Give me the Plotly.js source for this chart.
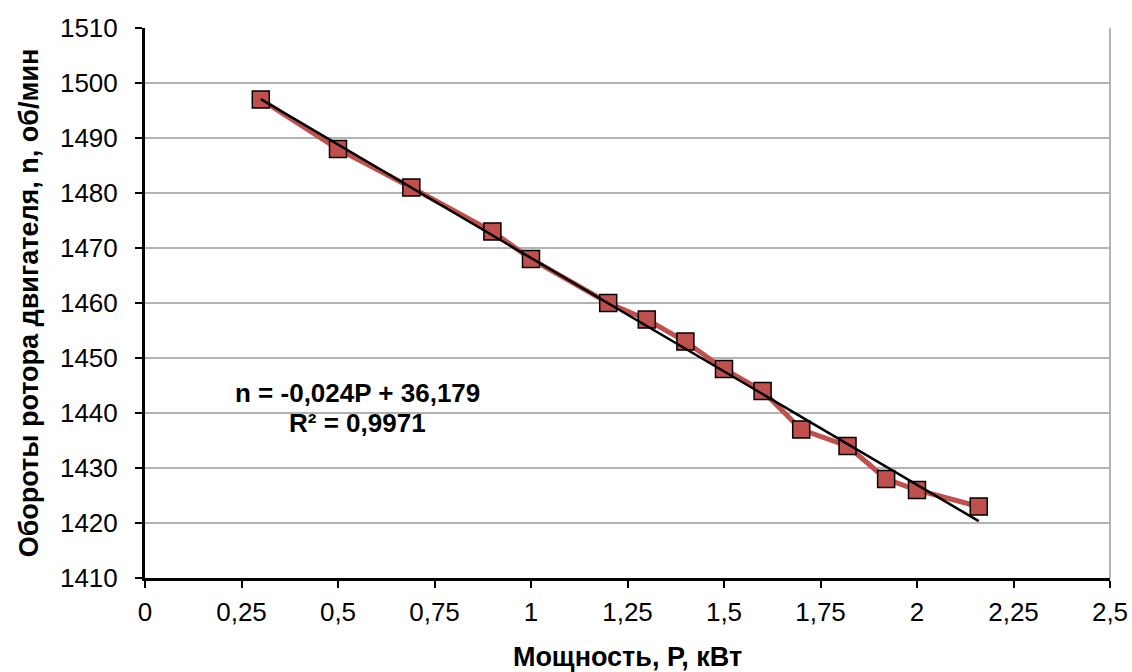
<!DOCTYPE html>
<html><head><meta charset="utf-8">
<script src="https://cdn.plot.ly/plotly-3.0.1.min.js"></script>
<style>html,body{margin:0;padding:0;background:#fff}#chart{width:1132px;height:672px}</style>
</head><body><div id="chart"></div>
<script>
const powerKW = [0.30, 0.50, 0.69, 0.90, 1.00, 1.20, 1.30, 1.40, 1.50, 1.60, 1.70, 1.82, 1.92, 2.00, 2.16];
const speedRPM = [1497, 1488, 1481, 1473, 1468, 1460, 1457, 1453, 1448, 1444, 1437, 1434, 1428, 1426, 1423];
const equationText = "n = -0,024P + 36,179";
const r2Text = "R² = 0,9971";
const xTitle = "Мощность, Р, кВт";
const yTitle = "Обороты ротора двигателя, n, об/мин";

// least squares trend line
const n = powerKW.length;
const mx = powerKW.reduce((a,b)=>a+b,0)/n;
const my = speedRPM.reduce((a,b)=>a+b,0)/n;
let sxy=0, sxx=0;
for(let i=0;i<n;i++){sxy+=(powerKW[i]-mx)*(speedRPM[i]-my);sxx+=(powerKW[i]-mx)**2;}
const slope=sxy/sxx, icpt=my-slope*mx;
const tx=[Math.min(...powerKW), Math.max(...powerKW)];
const ty=tx.map(v=>icpt+slope*v);

const font = {family:"Liberation Sans, Arial, sans-serif", color:"#000"};
const data = [
  {x:powerKW, y:speedRPM, type:"scatter", mode:"lines+markers",
   line:{color:"#c0504d", width:5},
   marker:{symbol:"square", size:17, color:"#c0504d", line:{color:"#000", width:1.5}},
   showlegend:false, hoverinfo:"x+y"},
  {x:tx, y:ty, type:"scatter", mode:"lines", line:{color:"#000", width:2.5}, showlegend:false}
];
const layout = {
  width:1132, height:672,
  margin:{l:145, r:22, t:28, b:94},
  paper_bgcolor:"#fff", plot_bgcolor:"#fff",
  separators:", ",
  font:Object.assign({size:26}, font),
  xaxis:{range:[0,2.5], dtick:0.25, tick0:0, showgrid:false, zeroline:false,
    showline:true, linecolor:"#000", linewidth:3, ticks:"outside", ticklen:7, tickwidth:2, tickcolor:"#000",
    tickfont:Object.assign({size:26}, font), ticklabelstandoff:2,
    title:{text:"<b>"+xTitle+"</b>", font:Object.assign({size:27}, font), standoff:26}},
  yaxis:{range:[1410,1510], dtick:10, showgrid:true, gridcolor:"#b3b3b3", gridwidth:1.5, zeroline:false,
    showline:true, linecolor:"#000", linewidth:3, ticks:"outside", ticklen:7, tickwidth:2, tickcolor:"#000",
    tickfont:Object.assign({size:26}, font), ticklabelstandoff:12,
    title:{text:"<b>"+yTitle+"</b>", font:Object.assign({size:27}, font), standoff:14}},
  shapes:[{type:"line", xref:"paper", yref:"paper", x0:1, x1:1, y0:0, y1:1, line:{color:"#b3b3b3", width:2}}],
  annotations:[
    {xref:"x", yref:"y", x:0.55, y:1443.6, text:"<b>"+equationText+"</b>", showarrow:false, font:Object.assign({size:26}, font)},
    {xref:"x", yref:"y", x:0.55, y:1438.2, text:"<b>"+r2Text+"</b>", showarrow:false, font:Object.assign({size:26}, font)}
  ]
};
Plotly.newPlot("chart", data, layout, {displayModeBar:false, staticPlot:true});
</script></body></html>
